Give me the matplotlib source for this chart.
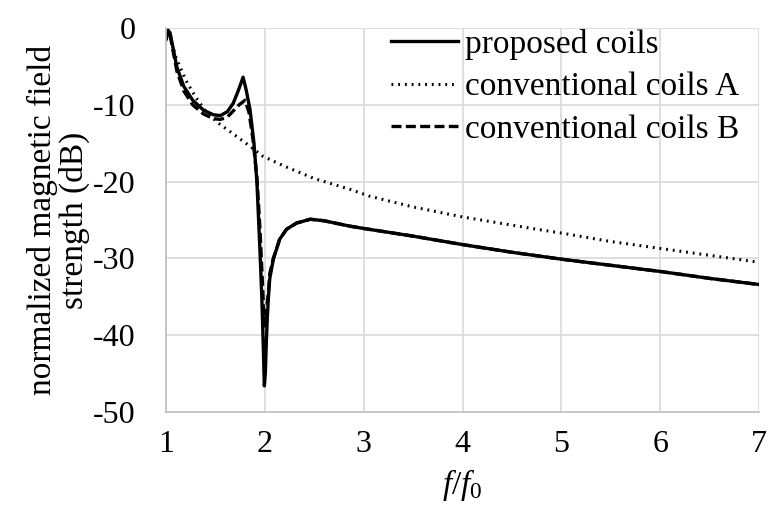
import numpy as np
import matplotlib.pyplot as plt

plt.rcParams['font.family'] = ['Liberation Serif', 'DejaVu Serif']
plt.rcParams['mathtext.fontset'] = 'custom'
plt.rcParams['mathtext.rm'] = 'Liberation Serif'
plt.rcParams['mathtext.it'] = 'Liberation Serif:italic'
plt.rcParams['axes.unicode_minus'] = False

# f/f0 values and normalized field strength (dB)
x_prop = [1.0, 1.02, 1.04, 1.07, 1.11, 1.18, 1.27, 1.38, 1.48, 1.55, 1.62, 1.68, 1.73,
          1.78, 1.81, 1.85, 1.89, 1.92, 1.95, 1.97, 1.985, 1.995, 2.005, 2.015, 2.025, 2.035, 2.05, 2.086,
          2.15, 2.22, 2.32, 2.46, 2.6, 2.86, 3.0, 3.5, 4.0, 4.5, 5.0, 5.5, 6.0, 6.5, 7.0]
y_prop = [-1.5, -0.3, -0.6, -2.5, -5.1, -7.6, -9.4, -10.7, -11.3, -11.4, -10.9, -9.8, -8.2,
          -6.4, -8.0, -10.6, -15.0, -20.1, -28.8, -35.3, -41.8, -46.6, -45.0, -41.0, -37.8, -35.3, -32.6, -30.1,
          -27.5, -26.2, -25.4, -24.9, -25.1, -25.8, -26.1, -27.1, -28.2, -29.2, -30.1, -30.9, -31.7, -32.6, -33.4]

x_a = [1.0, 1.02, 1.05, 1.1, 1.2, 1.3, 1.4, 1.52, 1.65, 1.85, 1.98, 2.2, 2.5, 2.86, 3.06,
       3.5, 4.0, 4.75, 5.0, 5.5, 6.0, 6.5, 7.0]
y_a = [-1.5, -0.5, -1.5, -3.8, -6.8, -9.0, -10.8, -12.3, -13.5, -15.4, -16.7, -18.0, -19.6,
       -21.0, -21.9, -23.3, -24.6, -26.2, -26.7, -27.8, -28.7, -29.6, -30.5]

x_b = [1.0, 1.02, 1.04, 1.07, 1.11, 1.18, 1.27, 1.38, 1.48, 1.55, 1.62, 1.68, 1.74,
       1.8, 1.84, 1.88, 1.92, 1.95, 1.975, 1.99, 2.0, 2.01, 2.035, 2.05, 2.086,
       2.15, 2.22, 2.32, 2.46, 2.6, 2.86, 3.0, 3.5, 4.0, 4.5, 5.0, 5.5, 6.0, 6.5, 7.0]
y_b = [-1.5, -0.3, -0.8, -2.9, -5.6, -8.2, -10.0, -11.2, -11.8, -11.9, -11.6, -10.8, -10.0,
       -9.4, -11.0, -14.5, -19.5, -26.0, -33.0, -37.5, -38.8, -37.5, -34.5, -32.0, -30.0,
       -27.5, -26.2, -25.4, -24.9, -25.1, -25.8, -26.1, -27.1, -28.2, -29.2, -30.1, -30.9, -31.7, -32.6, -33.4]

fig = plt.figure(figsize=(7.7, 5.17), dpi=100)
ax = fig.add_axes([0.2156, 0.2031, 0.7701, 0.7427])

ax.plot(x_prop, y_prop, color='black', lw=2.4, label='proposed coils')
ax.plot(x_a, y_a, color='black', lw=2.2, ls=(0, (0.6, 1.6)), label='conventional coils A')
ax.plot(x_b, y_b, color='black', lw=2.4, ls=(0, (3, 1.3)), label='conventional coils B')

ax.set_xlim(1, 7)
ax.set_ylim(-50, 0)
ax.set_xticks(np.arange(1, 8))
ax.set_yticks(np.arange(-50, 1, 10))
ax.grid(True, color='#d9d9d9', lw=1.2)
ax.set_axisbelow(True)
for s in ['top', 'right']:
    ax.spines[s].set_visible(False)
for s in ['left', 'bottom']:
    ax.spines[s].set_color('#bfbfbf')
    ax.spines[s].set_linewidth(1.2)
ax.tick_params(length=0, labelsize=23)
ax.tick_params(axis='y', pad=22)
ax.tick_params(axis='x', pad=13)

ax.set_xlabel(r'$f/f_0$', fontsize=24, labelpad=6)
ax.set_ylabel('normalized magnetic field\nstrength (dB)', fontsize=24, linespacing=1.05, labelpad=2)

ax.legend(loc='upper right', bbox_to_anchor=(1.0, 1.05), frameon=False, fontsize=24,
          handlelength=2.0, handletextpad=0.2, labelspacing=0.36, borderaxespad=0.2)

fig.savefig('out.png', dpi=100)
